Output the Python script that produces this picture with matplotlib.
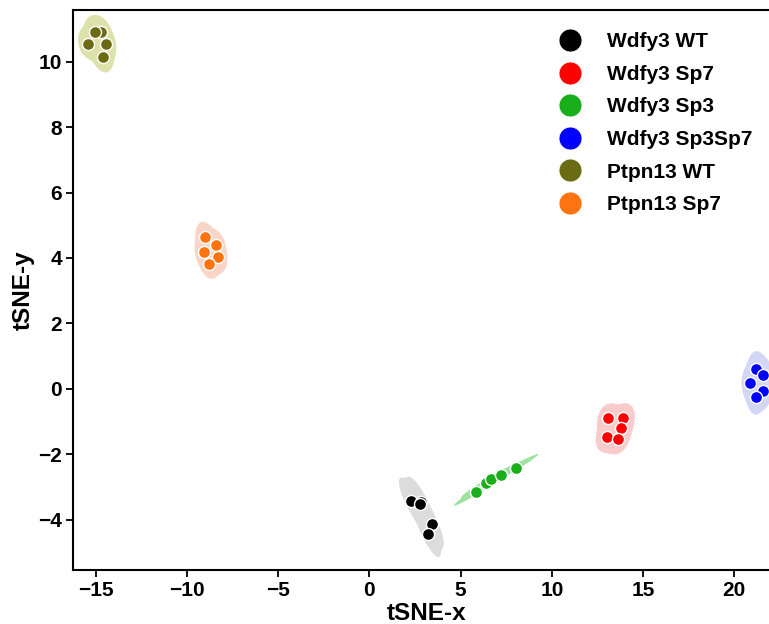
import numpy as np
import matplotlib
matplotlib.use("Agg")
import matplotlib.pyplot as plt
from matplotlib.lines import Line2D

plt.rcParams['font.family'] = ['Liberation Sans', 'DejaVu Sans']
plt.rcParams['font.weight'] = 'bold'

groups = ["Wdfy3 WT", "Wdfy3 Sp7", "Wdfy3 Sp3", "Wdfy3 Sp3Sp7", "Ptpn13 WT", "Ptpn13 Sp7"]
colors = ["#000000", "#ff0000", "#1aae1a", "#0000ff", "#6b6b14", "#ff7410"]
fill_colors = ["#dcdcdc", "#f9cccc", "#9fe29f", "#d4d6f6", "#dde2ab", "#f9d5c8"]

wt_x = [2.28, 2.83, 2.78, 3.42, 3.23]
wt_y = [-3.42, -3.47, -3.53, -4.14, -4.45]
sp7_x = [13.10, 13.92, 13.77, 13.01, 13.61]
sp7_y = [-0.90, -0.90, -1.21, -1.48, -1.54]
sp3_x = [5.85, 6.38, 6.67, 7.20, 8.02]
sp3_y = [-3.16, -2.87, -2.76, -2.63, -2.41]
sp3sp7_x = [21.19, 21.59, 20.86, 21.59, 21.17]
sp3sp7_y = [0.62, 0.42, 0.18, -0.06, -0.26]
ptpn_wt_x = [-14.72, -15.03, -15.40, -14.44, -14.61]
ptpn_wt_y = [10.90, 10.90, 10.55, 10.55, 10.14]
ptpn_sp7_x = [-9.00, -8.40, -9.06, -8.31, -8.77]
ptpn_sp7_y = [4.64, 4.39, 4.17, 4.03, 3.83]

xs = [wt_x, sp7_x, sp3_x, sp3sp7_x, ptpn_wt_x, ptpn_sp7_x]
ys = [wt_y, sp7_y, sp3_y, sp3sp7_y, ptpn_wt_y, ptpn_sp7_y]


def kde_fill(ax, x, y, color, thresh=0.05):
    """Fill the region holding 95% of a Gaussian KDE (Scott bandwidth)."""
    pts = np.vstack([x, y])
    n = pts.shape[1]
    factor = n ** (-1.0 / 6.0)
    cov = np.cov(pts) * factor ** 2
    inv = np.linalg.inv(cov)
    sd = np.sqrt(np.diag(np.cov(pts)))
    span = 4.0 * np.sqrt(np.diag(cov)) + sd * 2
    gx = np.linspace(pts[0].min() - span[0], pts[0].max() + span[0], 400)
    gy = np.linspace(pts[1].min() - span[1], pts[1].max() + span[1], 400)
    X, Y = np.meshgrid(gx, gy)
    dens = np.zeros_like(X)
    for px, py in pts.T:
        dx = X - px
        dy = Y - py
        q = inv[0, 0] * dx * dx + 2 * inv[0, 1] * dx * dy + inv[1, 1] * dy * dy
        dens += np.exp(-0.5 * q)
    flat = np.sort(dens.ravel())[::-1]
    cum = np.cumsum(flat)
    cum /= cum[-1]
    level = flat[np.searchsorted(cum, 1 - thresh)]
    ax.contourf(X, Y, dens, levels=[level, dens.max() * 1.01],
                colors=[color], antialiased=True, zorder=1)


fig = plt.figure(figsize=(7.69, 6.24), dpi=100)
ax = fig.add_axes([73 / 769, 0.0865, 0.9193, 0.898])

for x, y, fc in zip(xs, ys, fill_colors):
    kde_fill(ax, x, y, fc)
for x, y, c in zip(xs, ys, colors):
    ax.scatter(x, y, s=75, color=c, edgecolors="white", linewidths=1.0, zorder=3)

ax.set_xlim(-16.24, 22.5)
ax.set_ylim(-5.54, 11.59)
ax.set_xticks([-15, -10, -5, 0, 5, 10, 15, 20])
ax.set_yticks([-4, -2, 0, 2, 4, 6, 8, 10])
ax.tick_params(axis="both", labelsize=15, width=1.3, length=5, direction="out", pad=3)
for lab in ax.get_xticklabels() + ax.get_yticklabels():
    lab.set_fontweight("bold")
for sp in ax.spines.values():
    sp.set_linewidth(1.5)
ax.set_xlabel("tSNE-x", fontsize=17.5, fontweight="bold", labelpad=1)
ax.set_ylabel("tSNE-y", fontsize=17.5, fontweight="bold", labelpad=2)

handles = [Line2D([], [], marker="o", linestyle="", markersize=16.5,
                  markerfacecolor=c, markeredgecolor="white", markeredgewidth=0.5)
           for c in colors]
ax.legend(handles, groups, loc="upper left", bbox_to_anchor=(541 / 769, 1 - 24 / 624),
          bbox_transform=fig.transFigure, frameon=False,
          prop={"weight": "bold", "size": 15}, labelspacing=0.65, handletextpad=0.75,
          borderaxespad=0)

fig.savefig("out.png", dpi=100)
